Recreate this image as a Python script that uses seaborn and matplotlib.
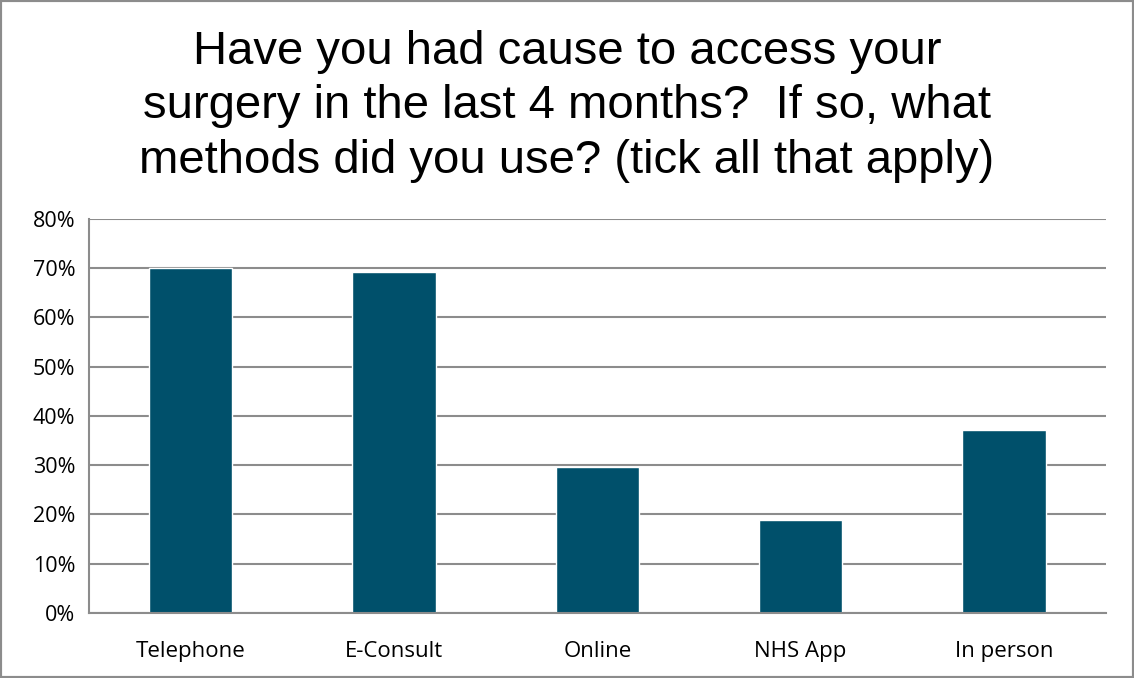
import matplotlib
matplotlib.use("Agg")
import matplotlib.pyplot as plt
import seaborn as sns
import pandas as pd
import numpy as np
from matplotlib.patches import Rectangle
from matplotlib.ticker import FixedLocator, PercentFormatter

categories = ["Telephone", "E-Consult", "Online", "NHS App", "In person"]
values = [70.0, 69.3, 29.6, 18.9, 37.2]
yticks = [0, 10, 20, 30, 40, 50, 60, 70, 80]
title = "Have you had cause to access your\nsurgery in the last 4 months?  If so, what\nmethods did you use? (tick all that apply)"

sns.set_theme(style="white")
plt.rcParams['font.family'] = ['Liberation Sans', 'DejaVu Sans']

df = pd.DataFrame({"method": categories, "pct": values})

fig = plt.figure(figsize=(11.34, 6.78), dpi=100)
ax = fig.add_axes([0.0785, 0.0959, 0.8965, 0.5811])
sns.barplot(data=df, x="method", y="pct", ax=ax, color="#00506B",
            saturation=1, width=0.41, order=categories)

ax.set_ylim(0, 80)
ax.set_xlim(-0.5, len(categories) - 0.5)
ax.set_yticks(yticks)
ax.yaxis.set_major_formatter(PercentFormatter(decimals=0))
ax.set_xlabel("")
ax.set_ylabel("")
ax.set_axisbelow(True)
ax.yaxis.grid(True, color="#8c8c8c", linewidth=1.5)
ax.xaxis.grid(False)

for s in ["top", "right"]:
    ax.spines[s].set_visible(False)
for s in ["left", "bottom"]:
    ax.spines[s].set_color("#8c8c8c")
    ax.spines[s].set_linewidth(1.5)

ax.tick_params(axis="y", which="major", length=6, width=1.5, color="#8c8c8c",
               direction="out", labelsize=15.5, pad=4, labelcolor="black")
ax.tick_params(axis="x", which="major", length=0, labelsize=16, pad=20, labelcolor="black")
ax.xaxis.set_minor_locator(FixedLocator(np.arange(-0.5, len(categories), 1.0)))
ax.tick_params(axis="x", which="minor", length=6, width=1.5, color="#8c8c8c", direction="out")
for lab in ax.get_xticklabels() + ax.get_yticklabels():
    lab.set_fontfamily(["Open Sans", "DejaVu Sans"])

fig.text(0.5, 0.843, title, ha="center", va="center", fontsize=34, linespacing=1.32,
         color="black")

fig.patches.append(Rectangle((0, 0), 1, 1, transform=fig.transFigure, fill=False,
                             edgecolor="#8c8c8c", linewidth=3))

fig.savefig("out.png", dpi=100)
